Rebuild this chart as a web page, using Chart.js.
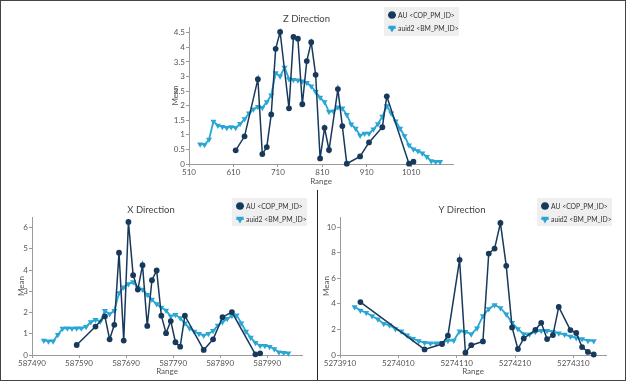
<!DOCTYPE html>
<html><head><meta charset="utf-8">
<script src="https://cdn.jsdelivr.net/npm/chart.js@4.4.1/dist/chart.umd.min.js"></script>
<style>
html,body{margin:0;padding:0;background:#fff;}
body{width:626px;height:381px;position:relative;overflow:hidden;}
.panel{position:absolute;}
#frame{position:absolute;left:0;top:0;width:624px;height:379px;border:1px solid #444;pointer-events:none;}
#divider{position:absolute;left:317px;top:190px;width:1px;height:191px;background:#222;}
</style></head><body>
<div class="panel" style="left:160px;top:0;"><canvas id="cz" width="310" height="190"></canvas></div>
<div class="panel" style="left:0;top:190px;"><canvas id="cx" width="317" height="190"></canvas></div>
<div class="panel" style="left:318px;top:190px;"><canvas id="cy" width="308" height="190"></canvas></div>
<div id="divider"></div>
<div id="frame"></div>
<script>
// ---------- Z Direction ----------
const zAuX = [615,635,665,675,685,695,705,715,735,745,755,765,775,785,795,805,815,825,845,855,865,895,915,945,955,1005,1015];
const zAuY = [0.47,0.95,2.91,0.34,0.58,1.70,3.95,4.53,1.91,4.36,4.30,2.05,3.53,4.18,3.06,0.19,1.24,0.48,2.57,1.30,0.01,0.26,0.74,1.26,2.32,0.01,0.08];
const zBmX = [535,545,555,565,575,585,595,605,615,625,635,645,655,665,675,685,695,705,715,725,735,745,755,765,775,785,795,805,815,825,835,845,855,865,875,885,895,905,915,925,935,945,955,965,975,985,995,1005,1015,1025,1035,1045,1055,1065,1075];
const zBmY = [0.68,0.66,0.84,1.46,1.32,1.28,1.24,1.27,1.24,1.38,1.54,1.74,1.88,1.96,1.93,2.13,2.36,3.12,3.01,3.31,2.92,2.89,2.87,2.84,2.79,2.67,2.48,2.28,2.13,1.79,1.81,1.95,1.91,1.69,1.36,1.22,0.98,1.05,1.05,1.19,1.37,1.63,1.99,1.74,1.47,1.22,0.96,0.64,0.51,0.45,0.37,0.25,0.10,0.08,0.08];
const zTicksX = [510,610,710,810,910,1010];
const zTicksY = [0,0.5,1,1.5,2,2.5,3,3.5,4,4.5];

// ---------- X Direction ----------
const xAuX = [587585,587625,587645,587655,587665,587675,587685,587695,587705,587715,587725,587735,587745,587755,587765,587775,587785,587795,587805,587815,587855,587875,587895,587915,587965,587975];
const xAuY = [0.47,1.34,1.82,0.74,1.42,4.82,0.68,6.27,3.76,3.08,4.23,1.37,3.52,3.98,1.85,1.03,1.60,0.60,0.39,1.85,0.24,0.74,1.78,2.02,0.03,0.08];
const xBmX = [587515,587525,587535,587545,587555,587565,587575,587585,587595,587605,587615,587625,587635,587645,587655,587665,587675,587685,587695,587705,587715,587725,587735,587745,587755,587765,587775,587785,587795,587805,587815,587825,587835,587845,587855,587865,587875,587885,587895,587905,587915,587925,587935,587945,587955,587965,587975,587985,587995,588005,588015,588025,588035];
const xBmY = [0.68,0.65,0.65,0.95,1.25,1.26,1.25,1.26,1.26,1.33,1.55,1.66,1.58,2.08,1.93,2.08,2.92,3.19,3.35,3.44,3.16,3.08,2.84,2.61,2.40,2.24,2.10,1.82,1.90,1.74,1.50,1.26,1.11,1.00,0.92,1.00,1.14,1.39,1.56,1.71,1.85,1.87,1.50,1.11,0.82,0.58,0.44,0.44,0.39,0.28,0.13,0.11,0.08];
const xTicksX = [587490,587590,587690,587790,587890,587990];
const xTicksY = [0,1,2,3,4,5,6];

// ---------- Y Direction ----------
const yAuX = [5273945,5274055,5274085,5274095,5274115,5274125,5274135,5274155,5274165,5274175,5274185,5274195,5274205,5274215,5274225,5274245,5274255,5274265,5274275,5274285,5274305,5274315,5274325,5274335,5274345];
const yAuY = [4.14,0.44,0.86,1.51,7.45,0.18,0.77,1.06,7.94,8.33,10.33,6.98,2.16,0.47,1.30,1.97,2.52,1.25,1.56,3.76,1.95,1.72,0.62,0.24,0.04];
const yBmX = [5273935,5273945,5273955,5273965,5273975,5273985,5273995,5274005,5274015,5274025,5274035,5274045,5274055,5274065,5274075,5274085,5274095,5274105,5274115,5274125,5274135,5274145,5274155,5274165,5274175,5274185,5274195,5274205,5274215,5274225,5274235,5274245,5274255,5274265,5274275,5274285,5274295,5274305,5274315,5274325,5274335,5274345];
const yBmY = [3.75,3.49,3.31,3.05,2.79,2.45,2.32,2.03,1.85,1.54,1.28,1.09,0.96,0.91,0.91,0.96,1.12,1.13,1.86,1.82,1.63,2.10,3.06,3.60,3.92,3.68,3.18,2.52,2.03,1.64,1.62,1.82,1.90,1.90,1.82,1.70,1.60,1.45,1.34,1.25,1.12,1.10];
const yTicksX = [5273910,5274010,5274110,5274210,5274310];
const yTicksY = [0,2,4,6,8,10];

const seriesNames = ['AU <COP_PM_ID>', 'auid2 <BM_PM_ID>'];
const DARK = '#17395c';
const TEAL = '#2aa6d5';
const FONT = 'Lato, "Noto Sans", sans-serif';

const boxLegend = {
  id: 'boxLegend',
  afterDraw(chart, args, opts) {
    const ctx = chart.ctx, b = opts.box;
    ctx.save();
    ctx.fillStyle = '#efefef';
    ctx.fillRect(b.x, b.y, b.w, b.h);
    chart.data.datasets.forEach((ds, i) => {
      const cy = b.y + 8 + i * 13;
      const mx = b.x + 8;
      ctx.strokeStyle = ds.borderColor; ctx.lineWidth = 1.4;
      ctx.beginPath(); ctx.moveTo(mx - 4, cy); ctx.lineTo(mx + 4, cy); ctx.stroke();
      ctx.fillStyle = ds.pointBackgroundColor; ctx.strokeStyle = ds.pointBorderColor;
      Chart.helpers.drawPoint(ctx, {pointStyle: ds.pointStyle, rotation: ds.pointRotation || 0, radius: 3.1, borderWidth: 1}, mx, cy);
      ctx.fillStyle = '#333';
      ctx.font = '6.8px ' + FONT;
      ctx.textBaseline = 'middle'; ctx.textAlign = 'left';
      ctx.fillText(ds.label, mx + 6, cy + 0.5);
    });
    ctx.restore();
  }
};

function pts(xs, ys) { return xs.map((x, i) => ({x: x, y: ys[i]})); }

function makeChart(id, cfg) {
  const axisColor = '#9a9a9a';
  return new Chart(document.getElementById(id), {
    type: 'line',
    data: {
      datasets: [
        {label: seriesNames[0], data: pts(cfg.auX, cfg.auY), borderColor: DARK, backgroundColor: DARK,
         pointBackgroundColor: DARK, pointBorderColor: DARK, borderWidth: 1.5, pointRadius: 2.9,
         pointStyle: 'circle', pointBorderWidth: 0, tension: 0, clip: false},
        {label: seriesNames[1], data: pts(cfg.bmX, cfg.bmY), borderColor: TEAL, backgroundColor: TEAL,
         pointBackgroundColor: TEAL, pointBorderColor: TEAL, borderWidth: 1.8, pointRadius: 3.5,
         pointStyle: 'triangle', pointRotation: 180, pointBorderWidth: 0, tension: 0, clip: false}
      ]
    },
    options: {
      responsive: false, animation: false, devicePixelRatio: 1,
      layout: {padding: {left: 0, right: cfg.padRight, top: 0, bottom: 0}},
      plugins: {
        legend: {display: false},
        tooltip: {enabled: false},
        title: {display: true, text: cfg.title, color: '#444', font: {family: FONT, size: 9.5, weight: 'normal', lineHeight: 1.2},
                padding: {top: cfg.titleTop, bottom: cfg.titleBottom}},
        boxLegend: {box: cfg.legendBox}
      },
      scales: {
        x: {
          type: 'linear', min: cfg.xMin, max: cfg.xMax,
          afterBuildTicks: s => { s.ticks = cfg.ticksX.map(v => ({value: v})); },
          afterFit: s => { s.height = cfg.xAxisH; },
          ticks: {color: '#555', font: {family: FONT, size: 8}, padding: 1, maxRotation: 0, autoSkip: false,
                  callback: v => String(v)},
          grid: {drawOnChartArea: false, drawTicks: true, tickLength: 3, color: axisColor},
          border: {display: true, color: axisColor, width: 1},
          title: {display: true, text: 'Range', color: '#555', font: {family: FONT, size: 8}, padding: {top: 0, bottom: cfg.xTitlePad}}
        },
        y: {
          type: 'linear', min: 0, max: cfg.yMax,
          afterBuildTicks: s => { s.ticks = cfg.ticksY.map(v => ({value: v})); },
          afterFit: s => { s.width = cfg.yAxisW; },
          ticks: {color: '#555', font: {family: FONT, size: 8}, padding: 1, autoSkip: false,
                  callback: v => String(v)},
          grid: {drawOnChartArea: false, drawTicks: true, tickLength: 3, color: axisColor},
          border: {display: true, color: axisColor, width: 1},
          title: {display: true, text: 'Mean', color: '#555', font: {family: FONT, size: 8}, padding: {top: cfg.yTitlePad, bottom: 0}}
        }
      }
    },
    plugins: [boxLegend]
  });
}

makeChart('cz', {title: 'Z Direction', auX: zAuX, auY: zAuY, bmX: zBmX, bmY: zBmY, ticksX: zTicksX, ticksY: zTicksY,
  xMin: 510, xMax: 1104, yMax: 4.7, padRight: 17, xAxisH: 26, yAxisW: 29, titleTop: 13.3, titleBottom: 2.3,
  xTitlePad: 4.2, yTitlePad: 10.2, legendBox: {x: 224, y: 7, w: 75, h: 29}});
makeChart('cx', {title: 'X Direction', auX: xAuX, auY: xAuY, bmX: xBmX, bmY: xBmY, ticksX: xTicksX, ticksY: xTicksY,
  xMin: 587490, xMax: 588064, yMax: 6.5, padRight: 15, xAxisH: 25, yAxisW: 32, titleTop: 14.3, titleBottom: 1.3,
  xTitlePad: 3.5, yTitlePad: 16.9, legendBox: {x: 232, y: 8, w: 75, h: 28}});
makeChart('cy', {title: 'Y Direction', auX: yAuX, auY: yAuY, bmX: yBmX, bmY: yBmY, ticksX: yTicksX, ticksY: yTicksY,
  xMin: 5273910, xMax: 5274366, yMax: 10.8, padRight: 20, xAxisH: 25, yAxisW: 22, titleTop: 14.3, titleBottom: 1.3,
  xTitlePad: 3.5, yTitlePad: 3.2, legendBox: {x: 219, y: 8, w: 75, h: 28}});
</script>
</body></html>
